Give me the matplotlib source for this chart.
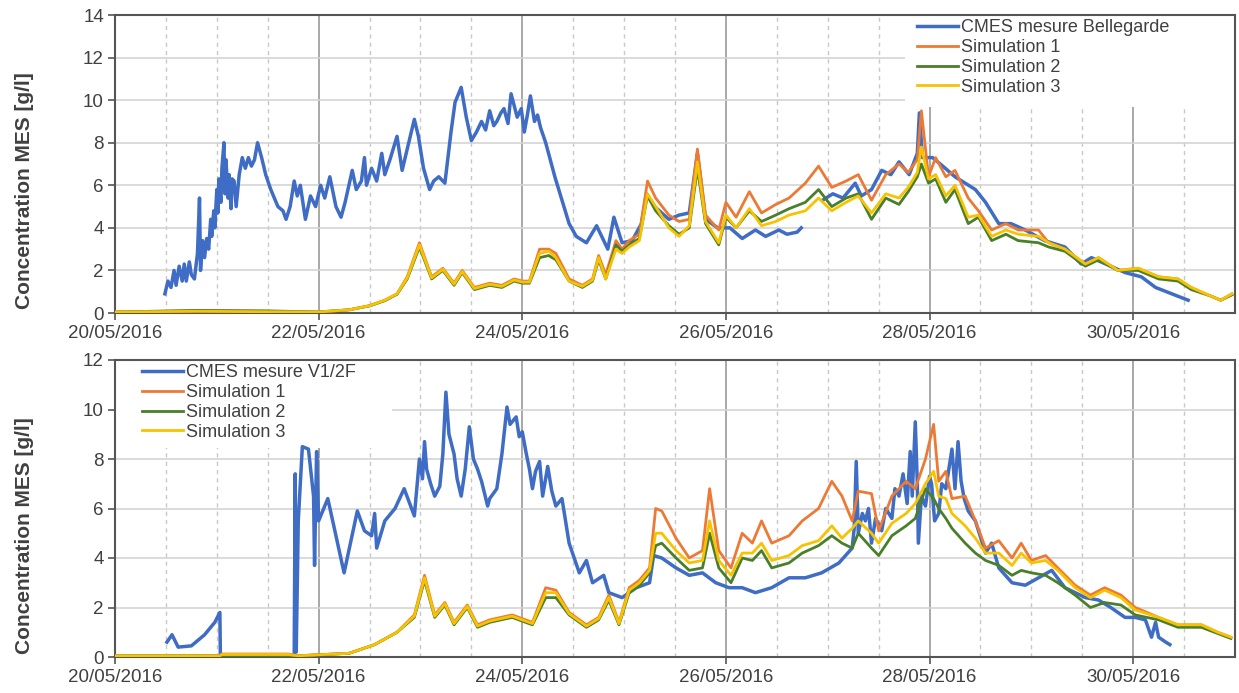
import numpy as np
import matplotlib
matplotlib.use("Agg")
import matplotlib.pyplot as plt
import matplotlib.dates as mdates
from matplotlib.patches import Rectangle

plt.rcParams['font.family'] = ['Liberation Sans', 'DejaVu Sans']

NAN = float('nan')

# ---- data: time in days after 20/05/2016 00:00, concentration in g/l ----
# top panel: Bellegarde
top_meas_t = [0.49, 0.52, 0.55, 0.58, 0.60, 0.63, 0.66, 0.68, 0.70, 0.73, 0.75, 0.78, 0.81, 0.83,
              0.84, 0.86, 0.88, 0.90, 0.92, 0.94, 0.95, 0.97, 0.98, 1.00, 1.01, 1.02, 1.04, 1.05,
              1.07, 1.08, 1.09, 1.11, 1.12, 1.14, 1.15, 1.17, 1.19, 1.22, 1.25, 1.28, 1.31, 1.34,
              1.37, 1.40, 1.44, 1.48, 1.53, 1.60, 1.65, 1.68, 1.72, 1.76, 1.79, 1.82, 1.87, 1.92,
              1.97, 2.02, 2.06, 2.11, 2.17, 2.22, 2.26, 2.33, 2.37, 2.42, 2.45, 2.47, 2.52, 2.57,
              2.62, 2.65, 2.70, 2.77, 2.82, 2.86, 2.94, 2.98, 3.03, 3.09, 3.13, 3.18, 3.24, 3.30,
              3.34, 3.40, 3.45, 3.50, 3.55, 3.60, 3.64, 3.68, 3.72, 3.75, 3.79, 3.82, 3.86, 3.89,
              3.95, 3.99, 4.02, 4.05, 4.08, 4.12, 4.15, 4.18, 4.23, 4.32, 4.46, 4.53, 4.63, 4.73,
              4.84, 4.90, 4.98, 5.08, 5.17, 5.22, 5.30, 5.44, 5.54, 5.64, 5.72, 5.80, 5.92, 6.04,
              6.16, 6.29, 6.39, 6.52, 6.60, 6.70, 6.74, 6.80,
              6.95, 7.05, 7.15, 7.27, 7.33, 7.43, 7.53, 7.62, 7.70, 7.80, 7.88, 7.90, 7.93, 8.03,
              8.13, 8.25, 8.45, 8.55, 8.68, 8.80, 8.94, 9.13, 9.33, 9.49, 9.59, 9.78, 9.92, 10.08,
              10.22, 10.38, 10.54]
top_meas_v = [0.9, 1.5, 1.2, 2.0, 1.3, 2.2, 1.5, 2.3, 1.5, 2.4, 1.8, 1.6, 2.8, 5.4,
              2.0, 3.4, 2.6, 3.5, 3.0, 4.4, 3.6, 4.8, 4.0, 5.8, 4.7, 6.3, 5.2, 6.8,
              8.0, 5.6, 7.2, 5.4, 6.5, 4.9, 6.3, 6.2, 5.0, 6.5, 7.3, 6.8, 7.3, 6.9,
              7.2, 8.0, 7.3, 6.5, 5.8, 5.0, 4.8, 4.4, 5.0, 6.2, 5.5, 6.0, 4.4, 5.5,
              5.0, 6.0, 5.4, 6.4, 5.0, 4.5, 5.2, 6.7, 5.8, 6.2, 7.3, 6.0, 6.8, 6.2,
              7.5, 6.5, 7.2, 8.3, 6.7, 7.5, 9.1, 8.3, 6.8, 5.8, 6.2, 6.4, 6.1, 8.5,
              9.9, 10.6, 9.2, 8.1, 8.5, 9.0, 8.6, 9.5, 8.8, 9.0, 9.4, 9.6, 8.9, 10.3,
              9.2, 9.6, 8.5, 9.3, 10.2, 9.0, 9.3, 8.7, 8.0, 6.4, 4.2, 3.6, 3.3, 4.1,
              3.0, 4.5, 3.3, 3.4, 4.2, 5.6, 5.0, 4.4, 4.6, 4.7, 7.5, 4.4, 4.0, 4.0,
              3.5, 3.9, 3.6, 3.9, 3.7, 3.8, 4.0, NAN,
              5.3, 5.6, 5.4, 6.1, 5.5, 5.8, 6.7, 6.5, 7.1, 6.5, 7.5, 9.4, 7.3, 7.3,
              6.9, 6.4, 5.8, 5.2, 4.2, 4.2, 3.9, 3.4, 3.1, 2.3, 2.6, 2.2, 1.9, 1.7,
              1.2, 0.9, 0.6]

top_sim_t = [0.0, 0.8, 1.5, 2.0, 2.3, 2.5, 2.65, 2.77, 2.87, 2.99, 3.11, 3.22, 3.33, 3.41, 3.53,
             3.68, 3.80, 3.92, 4.00, 4.07, 4.17, 4.26, 4.33, 4.46, 4.59, 4.69, 4.75, 4.82, 4.92,
             4.98, 5.05, 5.15, 5.23, 5.31, 5.44, 5.54, 5.64, 5.72, 5.80, 5.93, 6.00, 6.10, 6.23,
             6.35, 6.49, 6.62, 6.78, 6.91, 7.04, 7.18, 7.30, 7.43, 7.57, 7.70, 7.79, 7.88, 7.92,
             7.99, 8.06, 8.16, 8.25, 8.38, 8.48, 8.61, 8.75, 8.87, 9.07, 9.17, 9.33, 9.53, 9.66,
             9.85, 10.05, 10.25, 10.44, 10.57, 10.76, 10.86, 10.97]
top_sim1 = [0.05, 0.10, 0.08, 0.05, 0.15, 0.35, 0.6, 0.9, 1.7, 3.3, 1.7, 2.1, 1.4, 2.0, 1.2,
            1.4, 1.3, 1.6, 1.5, 1.5, 3.0, 3.0, 2.8, 1.6, 1.3, 1.6, 2.7, 1.8, 3.4,
            3.0, 3.4, 3.7, 6.2, 5.4, 4.6, 4.3, 4.4, 7.7, 4.6, 3.9, 5.2, 4.5, 5.7,
            4.7, 5.1, 5.4, 6.1, 6.9, 5.9, 6.2, 6.5, 5.3, 6.5, 7.0, 6.6, 7.2, 9.5,
            6.4, 7.3, 6.4, 6.7, 5.4, 4.8, 3.9, 4.2, 3.9, 3.9, 3.3, 3.0, 2.3, 2.6,
            2.0, 2.1, 1.7, 1.6, 1.2, 0.8, 0.6, 0.9]
top_sim2 = [0.05, 0.12, 0.10, 0.05, 0.15, 0.33, 0.58, 0.88, 1.6, 3.1, 1.6, 2.0, 1.3, 1.9, 1.1,
            1.3, 1.2, 1.5, 1.4, 1.4, 2.6, 2.7, 2.5, 1.5, 1.2, 1.5, 2.5, 1.6, 3.2,
            2.9, 3.2, 3.5, 5.5, 4.8, 4.1, 3.7, 4.0, 6.8, 4.2, 3.2, 4.5, 4.0, 4.8,
            4.3, 4.6, 4.9, 5.2, 5.8, 5.0, 5.4, 5.6, 4.4, 5.4, 5.1, 5.7, 6.4, 7.0,
            6.1, 6.3, 5.2, 5.8, 4.2, 4.5, 3.4, 3.7, 3.4, 3.3, 3.1, 2.9, 2.2, 2.5,
            2.0, 2.0, 1.6, 1.5, 1.1, 0.8, 0.6, 0.85]
top_sim3 = [0.05, 0.08, 0.06, 0.05, 0.15, 0.34, 0.6, 0.9, 1.65, 3.2, 1.65, 2.05, 1.35, 1.95, 1.15,
            1.35, 1.25, 1.55, 1.45, 1.45, 2.8, 2.9, 2.6, 1.5, 1.25, 1.55, 2.6, 1.6, 3.0,
            2.8, 3.1, 3.4, 5.6, 5.0, 4.0, 3.6, 4.1, 7.1, 4.3, 3.3, 4.6, 4.0, 4.9,
            4.1, 4.3, 4.6, 4.8, 5.4, 4.8, 5.2, 5.5, 4.7, 5.6, 5.4, 5.9, 6.6, 7.8,
            6.3, 6.5, 5.5, 6.0, 4.5, 4.6, 3.6, 3.9, 3.7, 3.6, 3.3, 3.0, 2.3, 2.6,
            2.0, 2.1, 1.7, 1.6, 1.2, 0.8, 0.6, 0.9]

# bottom panel: V1/2F
bot_meas_t = [0.51, 0.56, 0.62, 0.75, 0.88, 0.98, 1.03, 1.035, 1.40, 1.75, 1.76, 1.77, 1.78,
              1.80, 1.84, 1.90, 1.95, 1.96, 1.98, 2.00, 2.09, 2.25, 2.38, 2.45, 2.52, 2.55, 2.57,
              2.65, 2.75, 2.84, 2.94, 2.99, 3.02, 3.04, 3.06, 3.10, 3.14, 3.19, 3.22, 3.25, 3.28,
              3.33, 3.36, 3.40, 3.44, 3.48, 3.52, 3.56, 3.60, 3.66, 3.68, 3.75, 3.80, 3.85, 3.88,
              3.94, 3.97, 4.00, 4.04, 4.07, 4.10, 4.13, 4.17, 4.20, 4.25, 4.29, 4.33, 4.39, 4.46,
              4.56, 4.63, 4.69, 4.80, 4.85, 4.98, 5.12, 5.25, 5.29, 5.37, 5.51, 5.64, 5.77, 5.90,
              6.03, 6.16, 6.29, 6.45, 6.62, 6.78, 6.94, 7.11, 7.24, 7.26, 7.28, 7.30, 7.34, 7.37,
              7.40, 7.43, 7.47, 7.53, 7.57, 7.63, 7.66, 7.70, 7.74, 7.78, 7.81, 7.83, 7.86, 7.88,
              7.89, 7.92, 7.96, 8.00, 8.02, 8.05, 8.09, 8.12, 8.16, 8.19, 8.22, 8.25, 8.28, 8.31,
              8.34, 8.38, 8.45, 8.55, 8.61, 8.68, 8.81, 8.94, 9.07, 9.20, 9.33, 9.53, 9.66, 9.78,
              9.92, 10.02, 10.12, 10.18, 10.22, 10.25, 10.32, 10.36]
bot_meas_v = [0.6, 0.9, 0.4, 0.45, 0.9, 1.4, 1.8, 0.05, 0.05, 0.05, 0.1, 7.4, 0.2,
              5.5, 8.5, 8.4, 6.5, 3.7, 8.3, 5.5, 6.4, 3.4, 5.9, 5.1, 4.9, 5.8, 4.4,
              5.5, 6.0, 6.8, 5.7, 8.0, 7.2, 8.7, 7.6, 7.0, 6.5, 6.9, 8.2, 10.7, 9.0,
              8.2, 7.2, 6.5, 7.6, 9.3, 8.0, 7.6, 7.1, 6.1, 6.4, 6.8, 8.2, 10.1, 9.4,
              9.7, 8.9, 9.1, 8.2, 7.6, 6.8, 7.5, 7.9, 6.5, 7.7, 6.7, 6.1, 6.4, 4.6,
              3.4, 3.9, 3.0, 3.3, 2.6, 2.4, 2.8, 3.0, 4.1, 4.0, 3.6, 3.3, 3.4, 3.0,
              2.8, 2.8, 2.6, 2.8, 3.2, 3.2, 3.4, 3.8, 4.4, 5.2, 7.9, 5.0, 5.8, 5.5,
              6.0, 4.6, 5.6, 5.1, 6.0, 5.6, 6.8, 6.5, 7.4, 6.2, 8.3, 6.5, 9.5, 7.0,
              4.6, 6.5, 6.1, 7.3, 7.0, 5.5, 5.8, 7.0, 6.8, 7.6, 8.4, 6.8, 8.7, 7.1,
              6.4, 5.9, 5.5, 4.2, 4.6, 3.6, 3.0, 2.9, 3.2, 3.5, 2.8, 2.4, 2.3, 2.0,
              1.6, 1.6, 1.5, 0.8, 1.4, 0.8, 0.6, 0.5]

bot_sim_t = [0.0, 1.03, 1.05, 1.70, 1.80, 2.30, 2.55, 2.77, 2.94, 3.04, 3.14, 3.24, 3.33, 3.46,
             3.56, 3.68, 3.90, 4.10, 4.23, 4.33, 4.46, 4.63, 4.75, 4.85, 4.95, 5.05, 5.15, 5.25,
             5.31, 5.37, 5.51, 5.64, 5.77, 5.84, 5.93, 6.05, 6.16, 6.26, 6.35, 6.45, 6.62, 6.75,
             6.91, 7.04, 7.14, 7.24, 7.30, 7.43, 7.50, 7.63, 7.77, 7.86, 7.96, 8.04, 8.09, 8.16,
             8.22, 8.35, 8.45, 8.55, 8.68, 8.81, 8.90, 9.00, 9.14, 9.26, 9.43, 9.58, 9.72, 9.88,
             10.02, 10.25, 10.44, 10.67, 10.83, 10.96]
bot_sim1 = [0.05, 0.05, 0.12, 0.12, 0.05, 0.15, 0.5, 1.0, 1.7, 3.3, 1.7, 2.2, 1.4, 2.1,
            1.3, 1.5, 1.7, 1.4, 2.8, 2.7, 1.8, 1.3, 1.6, 2.5, 1.4, 2.8, 3.1, 3.6,
            6.0, 5.9, 4.8, 4.0, 4.3, 6.8, 4.3, 3.6, 5.0, 4.6, 5.5, 4.6, 4.9, 5.5,
            6.0, 7.1, 6.5, 5.5, 6.7, 6.6, 5.1, 6.5, 7.1, 6.8, 8.0, 9.4, 7.1, 7.5,
            6.4, 6.5, 5.5, 4.4, 4.7, 4.0, 4.6, 3.9, 4.1, 3.6, 2.9, 2.5, 2.8, 2.5,
            2.0, 1.6, 1.3, 1.3, 1.0, 0.8]
bot_sim2 = [0.05, 0.05, 0.05, 0.05, 0.05, 0.15, 0.5, 1.0, 1.6, 3.1, 1.6, 2.1, 1.3, 2.0,
            1.2, 1.4, 1.6, 1.3, 2.4, 2.4, 1.7, 1.2, 1.5, 2.3, 1.3, 2.6, 2.9, 3.4,
            4.5, 4.6, 4.0, 3.5, 3.6, 5.0, 3.6, 3.0, 4.0, 3.9, 4.3, 3.6, 3.8, 4.2,
            4.5, 4.9, 4.6, 4.4, 5.0, 4.4, 4.1, 4.9, 5.3, 5.6, 6.8, 6.4, 6.0, 5.6,
            5.2, 4.6, 4.2, 3.9, 3.7, 3.3, 3.5, 3.4, 3.3, 3.0, 2.5, 2.0, 2.2, 2.1,
            1.7, 1.5, 1.2, 1.2, 0.95, 0.75]
bot_sim3 = [0.05, 0.05, 0.10, 0.10, 0.05, 0.15, 0.5, 1.0, 1.65, 3.2, 1.65, 2.15, 1.35, 2.05,
            1.25, 1.45, 1.65, 1.35, 2.6, 2.6, 1.75, 1.25, 1.55, 2.4, 1.35, 2.7, 3.0, 3.5,
            5.0, 5.0, 4.3, 3.8, 3.9, 5.5, 3.9, 3.3, 4.2, 4.2, 4.6, 3.9, 4.1, 4.5,
            4.7, 5.3, 4.8, 5.2, 5.5, 5.0, 4.6, 5.4, 5.8, 6.2, 7.0, 7.5, 6.5, 6.4,
            5.8, 5.3, 4.8, 4.2, 4.2, 3.7, 4.2, 3.8, 3.9, 3.5, 2.8, 2.4, 2.7, 2.4,
            1.9, 1.6, 1.3, 1.3, 1.0, 0.8]

series_labels_top = ['CMES mesure Bellegarde', 'Simulation 1', 'Simulation 2', 'Simulation 3']
series_labels_bot = ['CMES mesure V1/2F', 'Simulation 1', 'Simulation 2', 'Simulation 3']
colors = ['#3F6CC4', '#EC7A35', '#4A7F2A', '#F7C300']

start = mdates.date2num(np.datetime64('2016-05-20T00:00'))
end = mdates.date2num(np.datetime64('2016-05-31T00:00'))


def to_x(days):
    return start + np.asarray(days, dtype=float)


def draw_panel(ax, meas_t, meas_v, sim_t, sims, labels, ymax, legend_anchor, mask_box):
    lines = []
    l, = ax.plot(to_x(meas_t), np.asarray(meas_v, dtype=float), color=colors[0], lw=2.5,
                 label=labels[0], zorder=3)
    lines.append(l)
    for k, s in enumerate(sims):
        l, = ax.plot(to_x(sim_t), s, color=colors[k + 1], lw=2.0, label=labels[k + 1], zorder=3 + k)
        lines.append(l)

    ax.set_xlim(start, end)
    ax.set_ylim(0, ymax)
    ax.set_yticks(np.arange(0, ymax + 1, 2))

    ax.xaxis.set_major_locator(mdates.DayLocator(bymonthday=[20, 22, 24, 26, 28, 30]))
    ax.xaxis.set_major_formatter(mdates.DateFormatter('%d/%m/%Y'))
    ax.xaxis.set_minor_locator(mdates.HourLocator(byhour=[0, 12]))

    ax.set_axisbelow(True)
    ax.grid(axis='y', color='#d4d4d4', lw=1.2)
    ax.grid(axis='x', which='major', color='#9a9a9a', lw=1.2)
    ax.grid(axis='x', which='minor', color='#c8c8c8', lw=1.0, linestyle=(0, (3, 3)))

    ax.tick_params(axis='x', which='major', length=5, width=1.2, color='#555555',
                   labelsize=13.5, labelcolor='#404040', pad=4)
    ax.tick_params(axis='x', which='minor', length=0)
    ax.tick_params(axis='y', length=5, width=1.2, color='#555555',
                   labelsize=13.5, labelcolor='#404040', pad=3)
    for sp in ax.spines.values():
        sp.set_color('#555555')
        sp.set_linewidth(1.5)

    ax.set_ylabel('Concentration MES [g/l]', fontsize=15, fontweight='bold', color='#404040')
    ax.yaxis.set_label_coords(-0.072, 0.41)

    # white area behind the legend that hides the grid
    ax.add_patch(Rectangle(mask_box[:2], mask_box[2], mask_box[3], transform=ax.transAxes,
                           facecolor='white', edgecolor='none', zorder=1))
    ax.legend(handles=lines, loc='upper left', bbox_to_anchor=legend_anchor, frameon=False,
              fontsize=13, labelcolor='#404040', handlelength=2.3, handletextpad=0.15,
              labelspacing=0.15, borderpad=0, borderaxespad=0)


fig = plt.figure(figsize=(12.39, 6.93), dpi=100)
ax1 = fig.add_axes([115 / 1239, 1 - 313 / 693, 1120 / 1239, 298 / 693])
ax2 = fig.add_axes([115 / 1239, 1 - 657 / 693, 1120 / 1239, 297 / 693])

draw_panel(ax1, top_meas_t, top_meas_v, top_sim_t, [top_sim1, top_sim2, top_sim3],
           series_labels_top, 14, (0.716, 0.985), (0.705, 0.69, 0.295, 0.31))
draw_panel(ax2, bot_meas_t, bot_meas_v, bot_sim_t, [bot_sim1, bot_sim2, bot_sim3],
           series_labels_bot, 12, (0.024, 0.985), (0.0, 0.705, 0.247, 0.295))

fig.savefig('out.png', dpi=100)
